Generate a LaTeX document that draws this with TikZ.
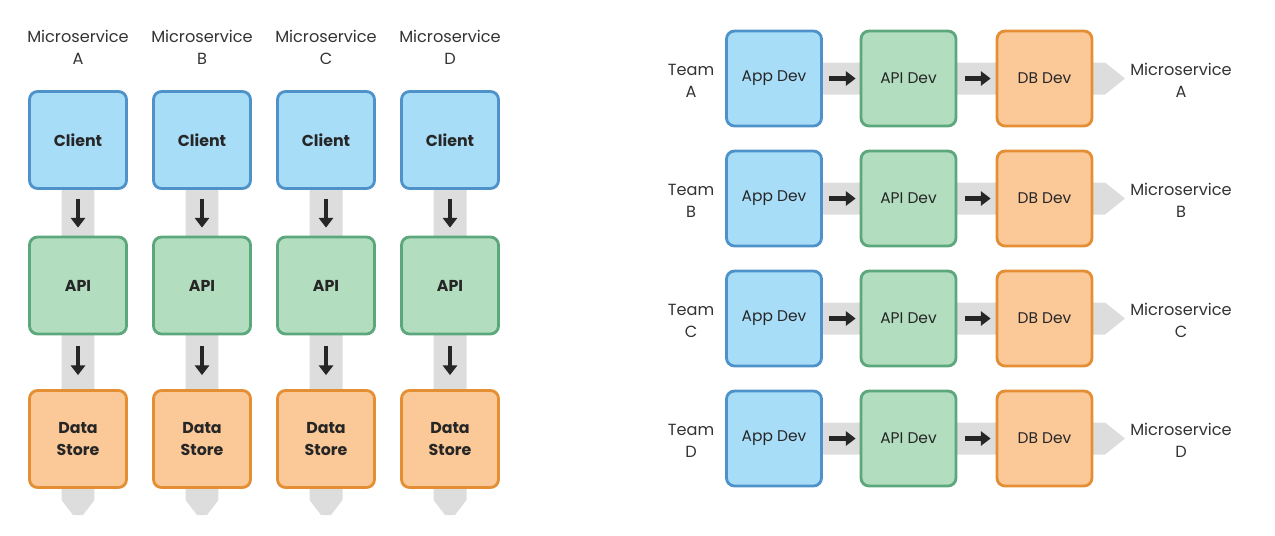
\documentclass[tikz,border=0pt]{standalone}
\usepackage{fontspec}
\setmainfont{Poppins}
\usetikzlibrary{arrows.meta,backgrounds}

\definecolor{clientfill}{HTML}{A8DDF8}
\definecolor{clientline}{HTML}{4F92C9}
\definecolor{apifill}{HTML}{B3DDBF}
\definecolor{apiline}{HTML}{5DA77C}
\definecolor{storefill}{HTML}{FBC898}
\definecolor{storeline}{HTML}{E58F35}
\definecolor{bandgray}{HTML}{DDDDDD}

\begin{document}
\begin{tikzpicture}[x=0.02cm,y=-0.02cm]
                \tikzstyle{box}=[rectangle,rounded corners=0.16cm,line width=1.6pt,minimum size=1.94cm,inner sep=0pt,align=center,text=black!85,font=\bfseries\fontsize{9}{12}\selectfont]
                \tikzstyle{client}=[box,draw=clientline,fill=clientfill]
                \tikzstyle{api}=[box,draw=apiline,fill=apifill]
                \tikzstyle{store}=[box,draw=storeline,fill=storefill]
                \tikzstyle{devbox}=[box,minimum size=1.9cm,font=\fontsize{8.8}{12}\selectfont]
                \tikzstyle{label}=[align=center,inner sep=0pt,text=black!80,font=\fontsize{9.2}{12.5}\selectfont]
                \tikzstyle{flow}=[-{Triangle[length=5.5pt,width=8pt]},line width=2.4pt,black!85]
                \tikzstyle{band}=[fill=bandgray]

                \useasboundingbox (0,0) rectangle (1275,535);

                % one column per microservice
                \foreach \n/\x in {A/78, B/202, C/326, D/450} {
                        \node[label] (MS-\n) at (\x, 47) {Microservice\\\n};
                        \node[client] (C-\n) at (\x, 140) {Client};
                        \node[api] (API-\n) at (\x, 285.5) {API};
                        \node[store] (DS-\n) at (\x, 439) {Data\\Store};
                        \coordinate (E-\n) at (\x, 515);
                        \begin{pgfonlayer}{background}
                                \fill[band] ([xshift=-0.33cm]C-\n.center) -- ([xshift=0.33cm]C-\n.center)
                                        -- ([xshift=0.33cm,yshift=0.3cm]E-\n) -- ([xshift=0.1cm]E-\n)
                                        -- ([xshift=-0.1cm]E-\n) -- ([xshift=-0.33cm,yshift=0.3cm]E-\n) -- cycle;
                        \end{pgfonlayer}
                        \draw[flow,shorten <=0.18cm,shorten >=0.16cm] (C-\n) -- (API-\n);
                        \draw[flow,shorten <=0.22cm,shorten >=0.28cm] (API-\n) -- (DS-\n);
                }

                % one row per team
                \foreach \n/\y in {A/78.5, B/198.5, C/318.5, D/438.5} {
                        \node[label] (T-\n) at (691, \y+2) {Team\\\n};
                        \node[devbox,draw=clientline,fill=clientfill] (App-\n) at (774, \y) {App Dev};
                        \node[devbox,draw=apiline,fill=apifill] (APId-\n) at (908.5, \y) {API Dev};
                        \node[devbox,draw=storeline,fill=storefill] (DB-\n) at (1044.5, \y) {DB Dev};
                        \node[label] (MSR-\n) at (1181, \y+2) {Microservice\\\n};
                        \coordinate (Tip-\n) at (1125, \y);
                        \begin{pgfonlayer}{background}
                                \fill[band] ([yshift=0.32cm]App-\n.center) -- ([xshift=-0.4cm,yshift=0.32cm]Tip-\n)
                                        -- (Tip-\n) -- ([xshift=-0.4cm,yshift=-0.32cm]Tip-\n)
                                        -- ([yshift=-0.32cm]App-\n.center) -- cycle;
                        \end{pgfonlayer}
                        \draw[flow,shorten <=0.12cm,shorten >=0.08cm] (App-\n) -- (APId-\n);
                        \draw[flow,shorten <=0.16cm,shorten >=0.1cm] (APId-\n) -- (DB-\n);
                }
            \end{tikzpicture}
\end{document}
